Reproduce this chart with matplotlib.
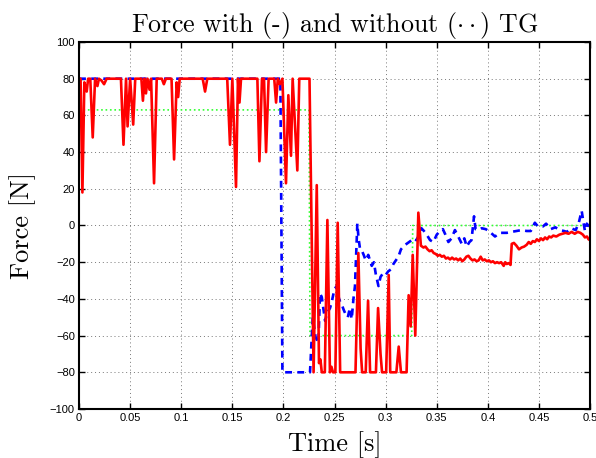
import matplotlib
matplotlib.use('Agg')
import matplotlib.pyplot as plt

# red: force with TG (solid)
t_with = [0, 0.0015, 0.0033, 0.0052, 0.0075, 0.0089, 0.011, 0.0134, 0.0157, 0.018,
          0.0195, 0.022, 0.0245, 0.027, 0.041, 0.0435, 0.046, 0.0475, 0.050, 0.053,
          0.055, 0.061, 0.0625, 0.064, 0.0655, 0.067, 0.069, 0.0705, 0.0734, 0.076,
          0.081, 0.083, 0.085, 0.0905, 0.093, 0.0955, 0.097, 0.0985, 0.121, 0.1233,
          0.1255, 0.145, 0.1477, 0.150, 0.1536, 0.1555, 0.157, 0.1585, 0.1745, 0.1765,
          0.179, 0.181, 0.183, 0.1855, 0.191, 0.1928, 0.1945, 0.1965, 0.199, 0.2025,
          0.2048, 0.2074, 0.209, 0.2136, 0.2155, 0.2255, 0.2295, 0.2326, 0.2348, 0.2362,
          0.2375, 0.2405, 0.243, 0.2455, 0.247, 0.2485, 0.2508, 0.2531, 0.2555, 0.2705,
          0.2733, 0.2755, 0.277, 0.2805, 0.2828, 0.2848, 0.2905, 0.2926, 0.295, 0.2965,
          0.3005, 0.303, 0.3045, 0.3105, 0.3128, 0.315, 0.3205, 0.3225, 0.3245, 0.3265,
          0.329, 0.332, 0.3345, 0.337, 0.339, 0.341, 0.343, 0.345, 0.347, 0.349,
          0.351, 0.353, 0.355, 0.357, 0.359, 0.361, 0.363, 0.365, 0.367, 0.369,
          0.371, 0.373, 0.375, 0.377, 0.379, 0.381, 0.383, 0.385, 0.387, 0.389,
          0.391, 0.393, 0.395, 0.397, 0.399, 0.401, 0.403, 0.405, 0.407, 0.409,
          0.411, 0.413, 0.4155, 0.417, 0.4185, 0.4205, 0.4222, 0.4234, 0.4255, 0.428,
          0.4305, 0.433, 0.4355, 0.438, 0.440, 0.442, 0.444, 0.446, 0.448, 0.450,
          0.452, 0.454, 0.456, 0.458, 0.460, 0.462, 0.464, 0.467, 0.470, 0.473,
          0.476, 0.479, 0.482, 0.485, 0.488, 0.4905, 0.493, 0.495, 0.497, 0.4985, 0.5]
f_with = [80, 80, 18, 78, 73, 80, 80, 48, 80, 76,
          80, 79, 77, 80, 80, 44, 80, 54, 80, 55,
          80, 80, 68, 80, 72, 80, 74, 80, 23, 80,
          80, 77, 80, 80, 36, 78, 70, 80, 80, 73,
          80, 80, 44, 80, 21, 80, 67, 80, 80, 35,
          80, 80, 40, 80, 80, 67, 80, 77, 80, 23,
          71, 38, 80, 30, 80, 80, -80, 22, -75, -73,
          -80, -80, 3, -80, -77, -80, -80, 1.5, -80, -80,
          -15, -67, -80, -80, -41, -80, -80, -45, -70, -80,
          -80, -27, -80, -80, -66, -80, -80, -38, -55, -16,
          -60, 7, -11, -12, -11.5, -13, -14, -13.5, -15, -15.5,
          -16.5, -16, -17, -16.5, -18, -17.5, -18.5, -17.5, -18.5, -18,
          -19, -18, -19.5, -18.5, -17, -16.5, -18, -19, -18.5, -19.5,
          -19, -17, -19, -18.5, -19.5, -19, -20, -19.5, -20.5, -20,
          -20.5, -20, -22, -20, -21, -20.5, -21.5, -10, -9.5, -11,
          -13, -12, -11.5, -10.5, -9, -10, -8.5, -9, -7.5, -8.5,
          -7, -8, -6.5, -7.5, -6, -6.5, -5.5, -6, -5, -4.5,
          -4, -4.5, -3.5, -4.5, -3.5, -4, -5, -6.5, -6, -7.5, -8]

# blue: force without TG (dashed)
t_without = [0, 0.197, 0.199, 0.226, 0.2287, 0.2315, 0.2342, 0.2358, 0.2375, 0.239,
             0.2408, 0.2425, 0.2456, 0.2475, 0.2498, 0.252, 0.2535, 0.255, 0.257, 0.259,
             0.2613, 0.263, 0.265, 0.2668, 0.2685, 0.270, 0.2723, 0.2735, 0.275, 0.277,
             0.2785, 0.2805, 0.283, 0.2864, 0.2885, 0.2905, 0.293, 0.295, 0.2975, 0.300,
             0.3025, 0.305, 0.3076, 0.310, 0.3125, 0.315, 0.318, 0.3205, 0.323, 0.3255,
             0.328, 0.330, 0.333, 0.335, 0.3375, 0.3402, 0.3435, 0.3467, 0.350, 0.3532,
             0.356, 0.3585, 0.3614, 0.3645, 0.3678, 0.371, 0.3745, 0.377, 0.3793, 0.382,
             0.384, 0.3865, 0.388, 0.391, 0.394, 0.398, 0.402, 0.407, 0.412, 0.4185,
             0.423, 0.428, 0.433, 0.438, 0.442, 0.446, 0.449, 0.454, 0.457, 0.4615,
             0.466, 0.4705, 0.4745, 0.4772, 0.4815, 0.486, 0.489, 0.4918, 0.4935, 0.495,
             0.4968, 0.4983, 0.5]
f_without = [80, 80, -80, -80, -50, -61, -64, -37, -39, -45,
             -52, -48, -45, -41, -35, -33, -38, -41, -43, -46,
             -49, -50, -45, -51, -40, -33, 1, -7, -13, -14,
             -16, -19, -16, -22, -20, -27, -33, -28, -26, -27,
             -25, -24, -21, -19, -17, -13, -11, -10, -9, -8,
             -7, -8, -5, -1.5, -3, -5, -8, -9, -5, -3,
             -2, -5, -9, -7, -2.5, -6, -10, -7, -11.5, -9,
             -8, 5, -2, -2.5, -1.5, -2, -3.5, -6, -4, -4,
             -3.5, -3, -2.5, -3, -3, 1.5, -0.5, -0.5, 1, -2,
             -1, -2.5, -3, -3.5, -1.5, -2.5, 1.5, 8, 2, -3,
             1, 0, -1]

# green: reference force (dotted)
t_ref = [0, 0.225, 0.226, 0.3255, 0.3265, 0.5]
f_ref = [63, 63, -60, -60, 0, 0]

xticks = [0, 0.05, 0.1, 0.15, 0.2, 0.25, 0.3, 0.35, 0.4, 0.45, 0.5]
xtick_labels = ['0', '0.05', '0.1', '0.15', '0.2', '0.25', '0.3', '0.35', '0.4', '0.45', '0.5']
yticks = [-100, -80, -60, -40, -20, 0, 20, 40, 60, 80, 100]
ytick_labels = ['\u2212100', '\u221280', '\u221260', '\u221240', '\u221220', '0',
                '20', '40', '60', '80', '100']

plt.rcParams['mathtext.fontset'] = 'cm'

fig = plt.figure(figsize=(5.96, 4.58), dpi=100)
ax = fig.add_axes([0.1326, 0.107, 0.8574, 0.8013])

ax.plot(t_ref, f_ref, color='#33ff33', linestyle=':', linewidth=1.2)
ax.plot(t_without, f_without, color='#0000ff', linestyle='--', linewidth=1.9,
        dashes=(2.6, 2))
ax.plot(t_with, f_with, color='#ff0000', linestyle='-', linewidth=1.9)

ax.set_xlim(0, 0.5)
ax.set_ylim(-100, 100)
ax.set_xticks(xticks)
ax.set_xticklabels(xtick_labels, fontfamily='Liberation Sans', fontsize=8)
ax.set_yticks(yticks)
ax.set_yticklabels(ytick_labels, fontfamily='Liberation Sans', fontsize=8)
ax.tick_params(direction='in', top=True, right=True, length=4, width=1, pad=3)
ax.grid(True, linestyle=(0, (1, 3)), color='#777777', linewidth=0.7)
for s in ax.spines.values():
    s.set_linewidth(1.5)

ax.set_title(r'Force with (-) and without ($\cdot\cdot$) TG', fontfamily='cmr10',
             fontsize=18.7, pad=7)
ax.set_xlabel('Time [s]', fontfamily='cmr10', fontsize=19, labelpad=6)
ax.set_ylabel('Force [N]', fontfamily='cmr10', fontsize=19, labelpad=10)

fig.savefig('out.png', dpi=100)
